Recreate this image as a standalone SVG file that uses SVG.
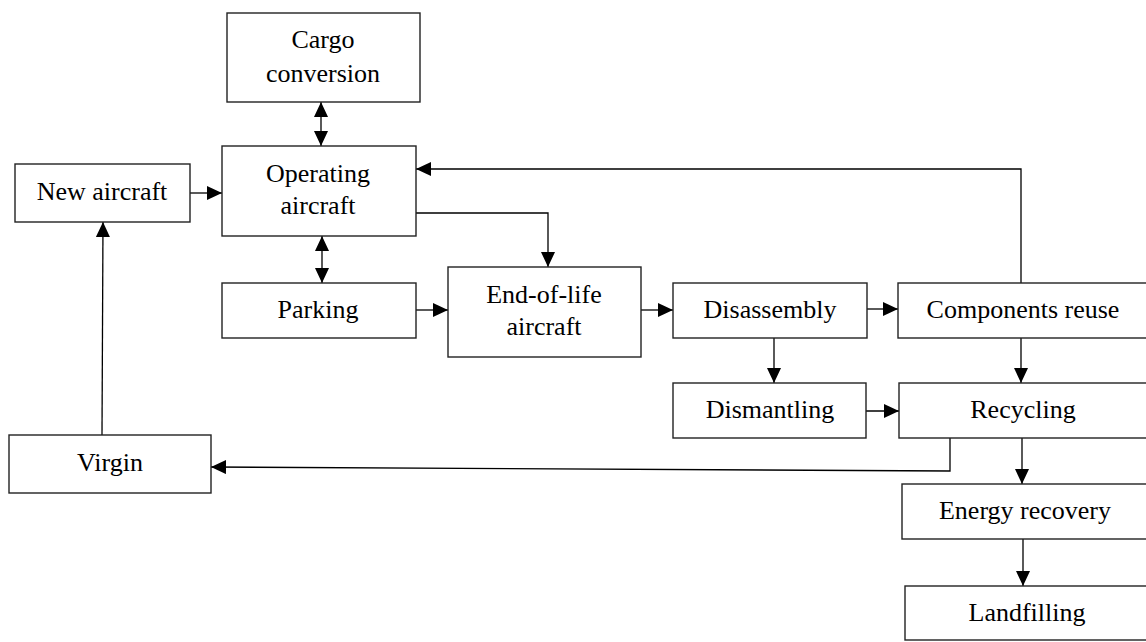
<svg xmlns="http://www.w3.org/2000/svg" width="1146" height="642" viewBox="0 0 1146 642">
  <style>
    .box { fill: #ffffff; stroke: #222222; stroke-width: 1.4; }
    .lbl { font-family: "Liberation Serif", "Times New Roman", serif; font-size: 26px; fill: #000000; text-anchor: middle; }
    .edge { fill: none; stroke: #000000; stroke-width: 1.3; marker-end: url(#arrow); }
    .both { marker-start: url(#arrow); }
  </style>
  <defs>
    <marker id="arrow" markerUnits="userSpaceOnUse" markerWidth="15" markerHeight="14" viewBox="0 0 15 14" refX="15" refY="7" orient="auto-start-reverse">
      <path d="M0,0 L15,7 L0,14 z" fill="#000000"/>
    </marker>
  </defs>
  <rect width="1146" height="642" fill="#ffffff"/>

  <g id="connectors">
    <path class="edge" d="M190,193 H222"/>
    <path class="edge both" d="M321,102 V146"/>
    <path class="edge both" d="M322,236 V283"/>
    <path class="edge" d="M416,213 H548 V267"/>
    <path class="edge" d="M416,310 H448"/>
    <path class="edge" d="M641,310 H673"/>
    <path class="edge" d="M867,309 H898"/>
    <path class="edge" d="M774,338 V383"/>
    <path class="edge" d="M1021,283 V169 H416"/>
    <path class="edge" d="M1021,338 V383"/>
    <path class="edge" d="M866,411 H899"/>
    <path class="edge" d="M950,438 V471 L211,467"/>
    <path class="edge" d="M1022,438 V484"/>
    <path class="edge" d="M1023,539 V586"/>
    <path class="edge" d="M102,435 L103,222"/>
  </g>

  <g id="cargo-conversion">
    <rect class="box" x="227" y="13" width="193" height="89"/>
    <text class="lbl" x="323" y="48">Cargo</text>
    <text class="lbl" x="323" y="82">conversion</text>
  </g>
  <g id="operating-aircraft">
    <rect class="box" x="222" y="146" width="194" height="90"/>
    <text class="lbl" x="318" y="182">Operating</text>
    <text class="lbl" x="318" y="214">aircraft</text>
  </g>
  <g id="new-aircraft">
    <rect class="box" x="15" y="164" width="175" height="58"/>
    <text class="lbl" x="102" y="200">New aircraft</text>
  </g>
  <g id="parking">
    <rect class="box" x="222" y="283" width="194" height="55"/>
    <text class="lbl" x="318" y="318">Parking</text>
  </g>
  <g id="end-of-life-aircraft">
    <rect class="box" x="448" y="267" width="193" height="90"/>
    <text class="lbl" x="544" y="303">End-of-life</text>
    <text class="lbl" x="544" y="335">aircraft</text>
  </g>
  <g id="disassembly">
    <rect class="box" x="673" y="283" width="194" height="55"/>
    <text class="lbl" x="770" y="318">Disassembly</text>
  </g>
  <g id="dismantling">
    <rect class="box" x="673" y="383" width="193" height="55"/>
    <text class="lbl" x="770" y="418">Dismantling</text>
  </g>
  <g id="components-reuse">
    <rect class="box" x="898" y="283" width="252" height="55"/>
    <text class="lbl" x="1023" y="318">Components reuse</text>
  </g>
  <g id="recycling">
    <rect class="box" x="899" y="383" width="251" height="55"/>
    <text class="lbl" x="1023" y="418">Recycling</text>
  </g>
  <g id="energy-recovery">
    <rect class="box" x="902" y="484" width="250" height="55"/>
    <text class="lbl" x="1025" y="519">Energy recovery</text>
  </g>
  <g id="landfilling">
    <rect class="box" x="905" y="586" width="247" height="54"/>
    <text class="lbl" x="1027" y="621">Landfilling</text>
  </g>
  <g id="virgin">
    <rect class="box" x="9" y="435" width="202" height="58"/>
    <text class="lbl" x="110" y="471">Virgin</text>
  </g>
</svg>
